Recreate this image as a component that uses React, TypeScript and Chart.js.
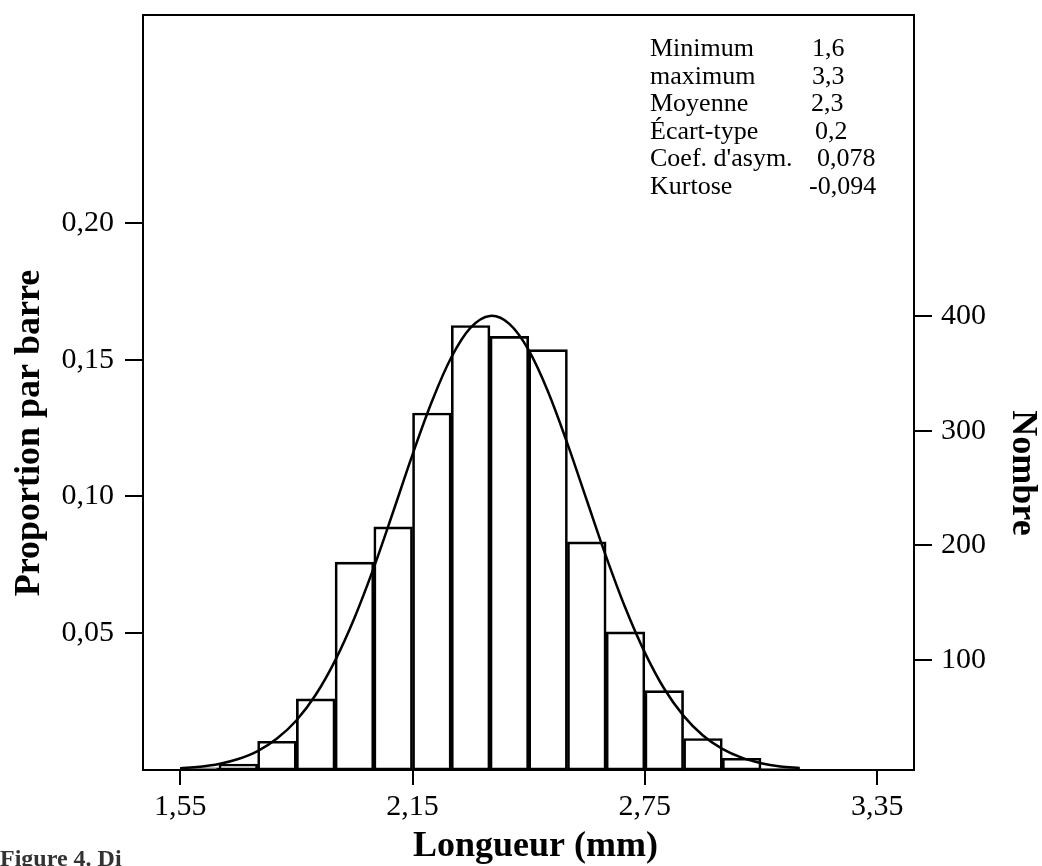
import React, { useEffect, useRef } from "react";
import { Chart, registerables } from "chart.js";

Chart.register(...registerables);

// ---- Data ----
const binCenters = [1.6, 1.7, 1.8, 1.9, 2.0, 2.1, 2.2, 2.3, 2.4, 2.5, 2.6, 2.7, 2.8, 2.9, 3.0, 3.1];
const binProportions = [0.0008, 0.0022, 0.0105, 0.026, 0.076, 0.0889, 0.1305, 0.1625, 0.1585, 0.1537, 0.0834, 0.0505, 0.029, 0.0115, 0.0043, 0.0005];

const curveX = [1.55, 1.6, 1.65, 1.7, 1.75, 1.8, 1.85, 1.9, 1.95, 2.0, 2.05, 2.1, 2.15, 2.2, 2.25, 2.3, 2.35, 2.4, 2.45, 2.5, 2.55, 2.6, 2.65, 2.7, 2.75, 2.8, 2.85, 2.9, 2.95, 3.0, 3.05, 3.1, 3.15];
const curveY = [0.0006, 0.0012, 0.0022, 0.004, 0.0069, 0.0115, 0.0181, 0.0275, 0.04, 0.0556, 0.074, 0.0944, 0.1153, 0.1347, 0.1508, 0.1617, 0.166, 0.1631, 0.1535, 0.1383, 0.1193, 0.0986, 0.078, 0.0591, 0.0429, 0.0297, 0.0198, 0.0126, 0.0077, 0.0045, 0.0025, 0.0013, 0.0007];

const xTickValues = [1.55, 2.15, 2.75, 3.35];
const xTickLabels = ["1,55", "2,15", "2,75", "3,35"];
const yTickValues = [0.05, 0.1, 0.15, 0.2];
const yTickLabels = ["0,05", "0,10", "0,15", "0,20"];
const countTickValues = [100, 200, 300, 400];
const countTickLabels = ["100", "200", "300", "400"];

const statNames = ["Minimum", "maximum", "Moyenne", "Écart-type", "Coef. d'asym.", "Kurtose"];
const statValues = ["1,6", "3,3", "2,3", "0,2", "0,078", "-0,094"];

const xTitle = "Longueur (mm)";
const yTitle = "Proportion par barre";
const y1Title = "Nombre";
const caption = "Figure 4. Di";

const SERIF = "'Liberation Serif', 'Times New Roman', serif";

const overlayPlugin = {
  id: "overlay",
  afterDraw(chart: any) {
    const { ctx, chartArea: a } = chart;
    ctx.save();
    // frame
    ctx.strokeStyle = "#000";
    ctx.lineWidth = 2;
    ctx.strokeRect(a.left, a.top, a.right - a.left, a.bottom - a.top);

    ctx.fillStyle = "#000";
    // axis titles
    ctx.font = `bold 36px ${SERIF}`;
    ctx.textAlign = "center";
    ctx.textBaseline = "alphabetic";
    ctx.fillText(xTitle, (a.left + a.right) / 2 + 7, 856);

    ctx.textBaseline = "middle";
    ctx.save();
    ctx.translate(30, 433);
    ctx.rotate(-Math.PI / 2);
    ctx.fillText(yTitle, 0, 0);
    ctx.restore();

    ctx.save();
    ctx.translate(1022, 473);
    ctx.rotate(Math.PI / 2);
    ctx.fillText(y1Title, 0, 0);
    ctx.restore();

    // statistics block
    ctx.font = `26px ${SERIF}`;
    ctx.textAlign = "left";
    ctx.textBaseline = "alphabetic";
    const valueX = [812, 812, 811, 815, 817, 809];
    statNames.forEach((name, i) => {
      const y = 56 + i * 27.5;
      ctx.fillText(name, 650, y);
      ctx.fillText(statValues[i], valueX[i], y);
    });

    // caption fragment at the bottom
    ctx.font = `bold 24px ${SERIF}`;
    ctx.fillStyle = "#333";
    ctx.fillText(caption, 0, 866);
    ctx.restore();
  },
};

const noPad = (s: any) => {
  s.paddingTop = 0;
  s.paddingBottom = 0;
  s.paddingLeft = 0;
  s.paddingRight = 0;
};

export default function App() {
  const canvasRef = useRef<HTMLCanvasElement | null>(null);

  useEffect(() => {
    const canvas = canvasRef.current;
    if (!canvas) return;
    const chart = new Chart(canvas, {
      type: "bar",
      data: {
        datasets: [
          {
            type: "line",
            data: curveX.map((x, i) => ({ x, y: curveY[i] })),
            borderColor: "#000",
            borderWidth: 2.5,
            pointRadius: 0,
            tension: 0.35,
            fill: false,
            order: 0,
            yAxisID: "y",
          } as any,
          {
            type: "bar",
            data: binCenters.map((x, i) => ({ x, y: binProportions[i] })),
            backgroundColor: "rgba(255,255,255,0)",
            borderColor: "#000",
            borderWidth: 2,
            borderSkipped: false,
            barPercentage: 1,
            categoryPercentage: 1,
            order: 1,
            yAxisID: "y",
          } as any,
        ],
      },
      options: {
        responsive: false,
        animation: false,
        devicePixelRatio: 1,
        layout: { padding: { top: 15, left: 0, right: 0, bottom: 0 } },
        plugins: {
          legend: { display: false },
          tooltip: { enabled: false },
          title: { display: false },
        },
        scales: {
          x: {
            type: "linear",
            position: "bottom",
            offset: false,
            min: 1.454,
            max: 3.445,
            afterFit: (s: any) => {
              s.height = 96;
              noPad(s);
            },
            afterBuildTicks: (s: any) => {
              s.ticks = xTickValues.map((v) => ({ value: v }));
            },
            ticks: {
              callback: (_v: any, i: number) => xTickLabels[i],
              color: "#000",
              font: { family: SERIF, size: 30 },
              padding: 4,
              maxRotation: 0,
              autoSkip: false,
            },
            grid: { offset: false, drawOnChartArea: false, drawTicks: true, tickLength: 15, color: "#000", lineWidth: 2 },
            border: { display: true, color: "#000", width: 2 },
          },
          y: {
            type: "linear",
            position: "left",
            min: 0,
            max: 0.276,
            afterFit: (s: any) => {
              s.width = 143;
              noPad(s);
            },
            afterBuildTicks: (s: any) => {
              s.ticks = yTickValues.map((v) => ({ value: v }));
            },
            ticks: {
              callback: (_v: any, i: number) => yTickLabels[i],
              color: "#000",
              font: { family: SERIF, size: 30 },
              padding: 11,
              autoSkip: false,
            },
            grid: { drawOnChartArea: false, drawTicks: true, tickLength: 18, color: "#000", lineWidth: 2 },
            border: { display: true, color: "#000", width: 2 },
          },
          y1: {
            type: "linear",
            position: "right",
            min: 3.9,
            max: 663.3,
            afterFit: (s: any) => {
              s.width = 128;
              noPad(s);
            },
            afterBuildTicks: (s: any) => {
              s.ticks = countTickValues.map((v) => ({ value: v }));
            },
            ticks: {
              callback: (_v: any, i: number) => countTickLabels[i],
              color: "#000",
              font: { family: SERIF, size: 30 },
              padding: 9,
              autoSkip: false,
            },
            grid: { drawOnChartArea: false, drawTicks: true, tickLength: 18, color: "#000", lineWidth: 2 },
            border: { display: true, color: "#000", width: 2 },
          },
        },
      },
      plugins: [overlayPlugin],
    });
    return () => chart.destroy();
  }, []);

  return (
    <div style={{ position: "fixed", left: 0, top: 0, width: 1042, height: 866, background: "#fff" }}>
      <canvas ref={canvasRef} width={1042} height={866} style={{ display: "block", width: 1042, height: 866 }} />
    </div>
  );
}
